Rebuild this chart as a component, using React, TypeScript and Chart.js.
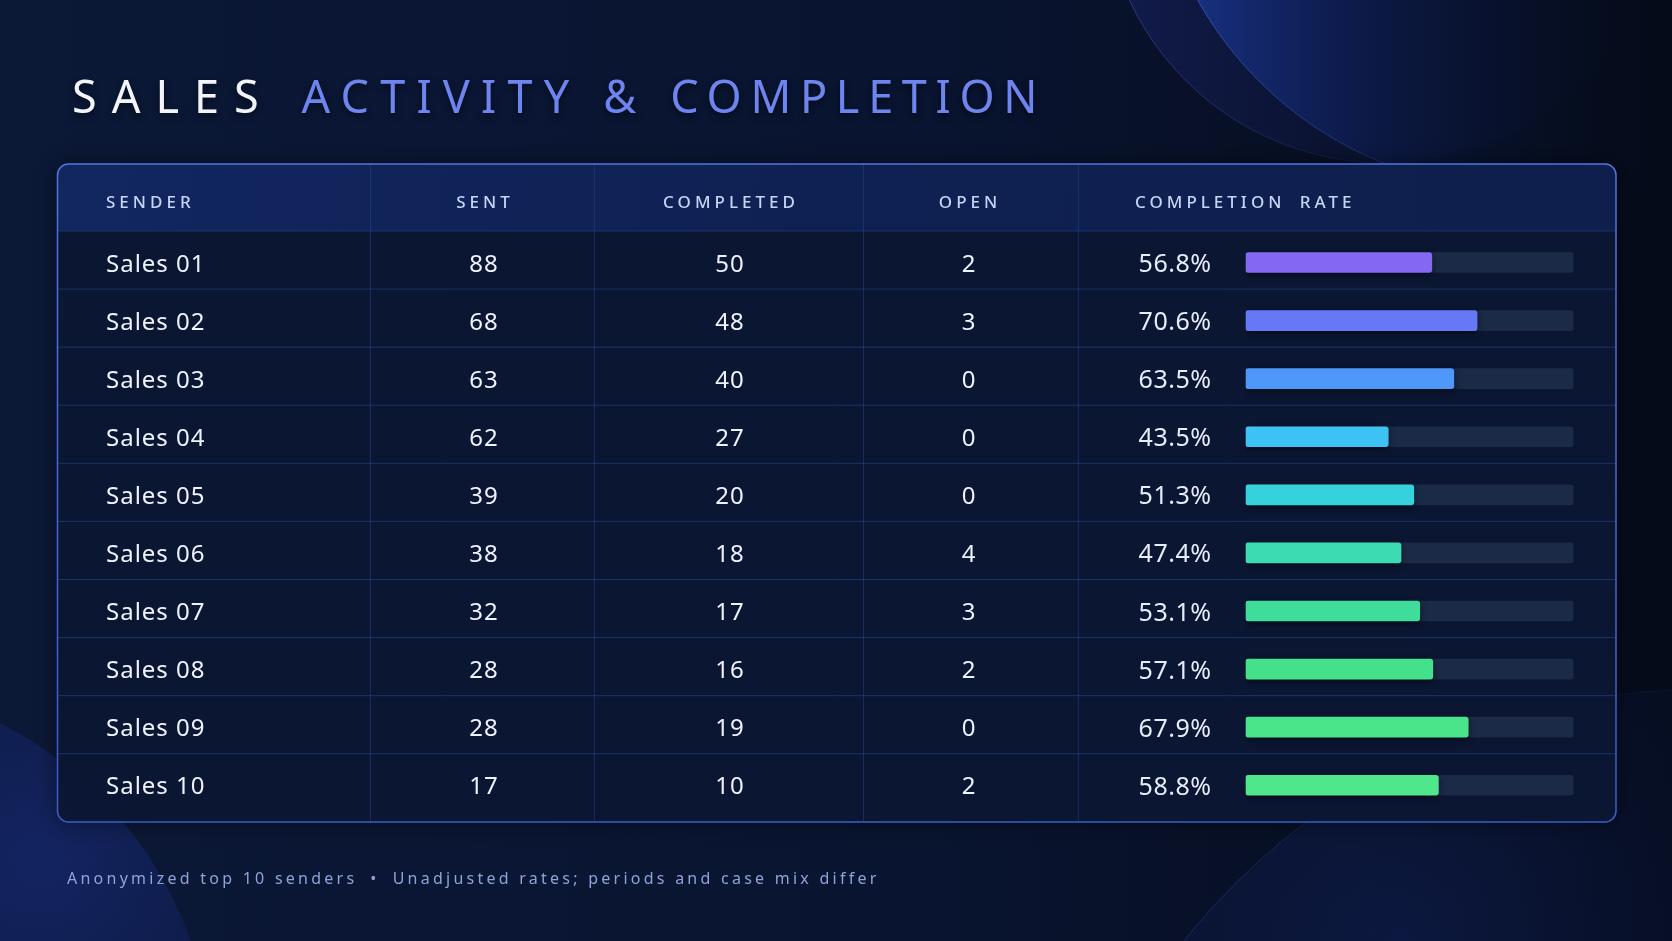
import { useEffect, useRef } from 'react'
import { Chart, BarController, BarElement, CategoryScale, LinearScale } from 'chart.js'

Chart.register(BarController, BarElement, CategoryScale, LinearScale)

const senders = ['Sales 01', 'Sales 02', 'Sales 03', 'Sales 04', 'Sales 05', 'Sales 06', 'Sales 07', 'Sales 08', 'Sales 09', 'Sales 10']
const sentCounts = [88, 68, 63, 62, 39, 38, 32, 28, 28, 17]
const completedCounts = [50, 48, 40, 27, 20, 18, 17, 16, 19, 10]
const openCounts = [2, 3, 0, 0, 0, 4, 3, 2, 0, 2]
const completionRates = [56.8, 70.6, 63.5, 43.5, 51.3, 47.4, 53.1, 57.1, 67.9, 58.8]
const trackValues = senders.map(() => 100)
const headers = ['SENDER', 'SENT', 'COMPLETED', 'OPEN', 'COMPLETION RATE']
const barColors = ['#8467f2', '#6678f6', '#4f97f8', '#3ec2f3', '#35d2dc', '#3ddbb1', '#3fdc9b', '#44e08a', '#4ae58a', '#4fe68c']

const W = 1672
const H = 941
const CARD = { left: 57.5, top: 164, right: 1616, bottom: 822, radius: 11 }
const DIVIDERS = [370.5, 594.4, 863.5, 1078.4]
const FONT = '"Noto Sans", "Open Sans", sans-serif'

// a soft disc whose rim line fades out towards its right side
function disc(c: CanvasRenderingContext2D, x: number, y: number, r: number, fill: CanvasGradient, rim: string) {
    c.beginPath()
    c.arc(x, y, r, 0, Math.PI * 2)
    c.fillStyle = fill
    c.fill()
    const sg = c.createLinearGradient(x - r, 0, x + r * 0.2, 0)
    sg.addColorStop(0, rim)
    sg.addColorStop(1, 'rgba(60,90,200,0)')
    c.strokeStyle = sg
    c.lineWidth = 1
    c.stroke()
}

const tablePlugin = {
    id: 'tableChrome',
    beforeDraw(chart: any) {
        const { ctx: c, scales: { y } } = chart
        c.save()
        // page background
        const bg = c.createLinearGradient(0, 0, W, 0)
        bg.addColorStop(0, '#0b1836')
        bg.addColorStop(0.55, '#091430')
        bg.addColorStop(1, '#050b19')
        c.fillStyle = bg
        c.fillRect(0, 0, W, H)

        // decorative circles
        const ga = c.createLinearGradient(1103, 0, 1667, 0)
        ga.addColorStop(0, 'rgba(40,50,150,0.32)')
        ga.addColorStop(0.6, 'rgba(20,30,90,0.12)')
        ga.addColorStop(1, 'rgba(10,20,60,0)')
        disc(c, 1385, -119, 282, ga, 'rgba(80,100,220,0.45)')
        const gb = c.createLinearGradient(1150, 0, 1650, 0)
        gb.addColorStop(0, 'rgba(30,64,170,0.75)')
        gb.addColorStop(0.45, 'rgba(16,38,110,0.35)')
        gb.addColorStop(1, 'rgba(8,18,50,0)')
        disc(c, 1522, -182, 372, gb, 'rgba(80,120,235,0.55)')
        const gc = c.createRadialGradient(40, 860, 0, 40, 860, 300)
        gc.addColorStop(0, 'rgba(30,50,150,0.45)')
        gc.addColorStop(1, 'rgba(20,36,110,0.2)')
        disc(c, -181, 1074, 395, gc, 'rgba(70,100,220,0.4)')
        const gd = c.createRadialGradient(1400, 940, 0, 1400, 940, 400)
        gd.addColorStop(0, 'rgba(22,42,120,0.35)')
        gd.addColorStop(1, 'rgba(14,28,80,0.12)')
        disc(c, 1706, 1356, 667, gd, 'rgba(60,90,200,0.35)')

        // card body
        const cw = CARD.right - CARD.left
        const ch = CARD.bottom - CARD.top
        c.shadowColor = 'rgba(0,0,0,0.45)'
        c.shadowBlur = 24
        c.beginPath()
        c.roundRect(CARD.left, CARD.top, cw, ch, CARD.radius)
        c.fillStyle = 'rgba(11,23,52,0.96)'
        c.fill()
        c.shadowColor = 'transparent'

        const band = y.getPixelForValue(1) - y.getPixelForValue(0)
        const shift = -2.5
        const headerBottom = y.getPixelForValue(0) - band / 2 + shift

        c.save()
        c.clip()
        const hg = c.createLinearGradient(CARD.left, CARD.top, CARD.right, headerBottom)
        hg.addColorStop(0, '#122660')
        hg.addColorStop(0.5, '#0f2152')
        hg.addColorStop(1, '#0e1f4d')
        c.fillStyle = hg
        c.fillRect(CARD.left, CARD.top, cw, headerBottom - CARD.top)
        c.restore()

        // row separators
        c.strokeStyle = '#1b3366'
        c.lineWidth = 1
        c.beginPath()
        c.moveTo(CARD.left, headerBottom)
        c.lineTo(CARD.right, headerBottom)
        for (let i = 0; i < senders.length - 1; i++) {
            const yy = (y.getPixelForValue(i) + y.getPixelForValue(i + 1)) / 2 + shift
            c.moveTo(CARD.left, yy)
            c.lineTo(CARD.right, yy)
        }
        c.stroke()

        // column dividers
        c.strokeStyle = 'rgba(40,70,140,0.45)'
        c.beginPath()
        DIVIDERS.forEach(x => { c.moveTo(x, CARD.top); c.lineTo(x, CARD.bottom) })
        c.stroke()

        // border
        const bd = c.createLinearGradient(0, CARD.top, 0, CARD.bottom)
        bd.addColorStop(0, '#5274de')
        bd.addColorStop(1, '#3a5cc0')
        c.strokeStyle = bd
        c.lineWidth = 1.5
        c.beginPath()
        c.roundRect(CARD.left, CARD.top, cw, ch, CARD.radius)
        c.stroke()
        c.restore()
    },
    beforeDatasetDraw(chart: any, args: any) {
        const c = chart.ctx
        c.save()
        if (args.index === 0) {
            c.shadowColor = 'rgba(0,0,0,0.55)'
            c.shadowBlur = 6
            c.shadowOffsetY = 2
        }
    },
    afterDatasetDraw(chart: any) {
        chart.ctx.restore()
    },
    afterDatasetsDraw(chart: any) {
        const { ctx: c, scales: { y } } = chart
        const band = y.getPixelForValue(1) - y.getPixelForValue(0)
        const headerBottom = y.getPixelForValue(0) - band / 2 - 2.5
        c.save()
        c.textBaseline = 'alphabetic'

        // header labels
        const hy = (CARD.top + headerBottom) / 2 + 10
        c.font = `500 17px ${FONT}`
        c.letterSpacing = '4px'
        c.wordSpacing = '6px'
        c.fillStyle = '#c6d4f6'
        c.textAlign = 'left'
        c.fillText(headers[0], 106, hy)
        c.textAlign = 'center'
        c.fillText(headers[1], 485, hy)
        c.fillText(headers[2], 731, hy)
        c.fillText(headers[3], 970, hy)
        c.textAlign = 'left'
        c.fillText(headers[4], 1135, hy)
        c.wordSpacing = '0px'

        // cells
        senders.forEach((name, i) => {
            const base = y.getPixelForValue(i) + 9
            c.fillStyle = '#eef2ff'
            c.font = `400 24px ${FONT}`
            c.letterSpacing = '1px'
            c.textAlign = 'left'
            c.fillText(name, 106, base)
            c.textAlign = 'center'
            c.fillText(String(sentCounts[i]), 484, base)
            c.fillText(String(completedCounts[i]), 730, base)
            c.fillText(String(openCounts[i]), 969, base)
            c.font = `400 25px ${FONT}`
            c.letterSpacing = '0.5px'
            c.textAlign = 'right'
            c.fillStyle = '#e6ecfb'
            c.fillText(`${completionRates[i].toFixed(1)}%`, 1211.5, base + 0.5)
        })
        c.restore()
    },
}

export default function App() {
    const canvasRef = useRef<HTMLCanvasElement>(null)
    const chartRef = useRef<Chart | null>(null)

    useEffect(() => {
        if (!canvasRef.current) return
        if (chartRef.current) { chartRef.current.destroy(); chartRef.current = null }

        chartRef.current = new Chart(canvasRef.current, {
            type: 'bar',
            data: {
                labels: senders,
                datasets: [
                    {
                        label: 'Completion rate',
                        data: completionRates,
                        backgroundColor: barColors,
                        barThickness: 20,
                        borderRadius: 3,
                        borderSkipped: false,
                        grouped: false,
                        order: 0,
                    },
                    {
                        label: 'Track',
                        data: trackValues,
                        backgroundColor: '#1b2a47',
                        barThickness: 20,
                        borderRadius: 3,
                        borderSkipped: false,
                        grouped: false,
                        order: 1,
                    },
                ],
            },
            options: {
                indexAxis: 'y',
                responsive: true,
                maintainAspectRatio: false,
                animation: false,
                events: [],
                layout: { padding: { left: 1245.6, right: W - 1573.5, top: 233.5, bottom: H - 814.3 } },
                scales: {
                    x: { type: 'linear', min: 0, max: 100, display: false },
                    y: { type: 'category', display: false },
                },
                plugins: { legend: { display: false }, tooltip: { enabled: false } },
            },
            plugins: [tablePlugin],
        } as any)

        return () => { chartRef.current?.destroy(); chartRef.current = null }
    }, [])

    return (
        <div style={{ position: 'absolute', left: 0, top: 0, width: W, height: H, overflow: 'hidden', background: '#091430' }}>
            <div style={{ position: 'absolute', left: 0, top: 0, width: W, height: H }}>
                <canvas ref={canvasRef} />
            </div>
            <div style={{
                position: 'absolute', left: 72, top: 72.7, whiteSpace: 'nowrap',
                font: `400 45px/1 ${FONT}`, letterSpacing: '11.2px',
                textShadow: '0 3px 6px rgba(0,0,0,0.55)',
            }}>
                <span style={{ color: '#f2f5fc', letterSpacing: '15px', marginRight: 1 }}>SALES </span>
                <span style={{ color: '#6e84ef' }}>ACTIVITY &amp; </span>
                <span style={{ color: '#6e84ef', letterSpacing: '8.7px' }}>COMPLETION</span>
            </div>
            <div style={{
                position: 'absolute', left: 67, top: 869.5, whiteSpace: 'nowrap',
                font: `400 16px/1 ${FONT}`, letterSpacing: '3.25px', color: '#8ea3d8',
            }}>
                Anonymized top 10 senders<span style={{ margin: '0 13px' }}>•</span>Unadjusted rates; periods and case mix differ
            </div>
        </div>
    )
}
